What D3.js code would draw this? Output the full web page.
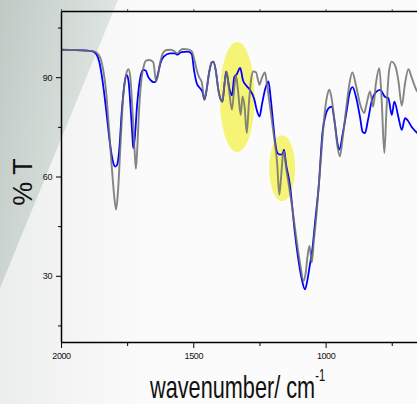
<!DOCTYPE html>
<html>
<head>
<meta charset="utf-8">
<script src="https://cdn.jsdelivr.net/npm/d3@7"></script>
<style>
  html, body { margin: 0; padding: 0; background: #fbfbfb; }
  svg { display: block; }
  .tick text { font-family: "Liberation Sans", Arial, sans-serif; font-size: 9px; letter-spacing: -0.4px; fill: #111; }
</style>
</head>
<body>
<div id="chart"></div>
<script>
// wavenumbers (cm-1) and %T
const grayWn = [2000, 1950, 1900, 1875, 1860, 1850, 1840, 1830, 1820, 1810, 1800, 1792, 1785, 1775, 1765, 1755, 1745, 1738, 1730, 1722, 1717, 1712, 1705, 1695, 1685, 1679, 1665, 1651, 1645, 1641, 1635, 1625, 1613, 1600, 1585, 1575, 1560, 1548, 1538, 1520, 1506, 1495, 1487, 1478, 1468, 1458, 1450, 1440, 1430, 1424, 1415, 1405, 1395, 1390, 1382, 1374, 1366, 1354, 1346, 1339, 1331, 1321, 1314, 1306, 1298, 1290, 1282, 1273, 1263, 1255, 1250, 1242, 1229, 1222, 1210, 1200, 1190, 1183, 1175, 1168, 1162, 1157, 1150, 1140, 1125, 1110, 1095, 1084, 1075, 1068, 1061, 1052, 1045, 1035, 1025, 1015, 1005, 995, 986, 978, 965, 955, 946, 935, 920, 910, 899, 885, 870, 854, 845, 832, 820, 810, 797, 788, 778, 770, 760, 750, 735, 725, 712, 700, 687, 675, 656, 640];
const grayT = [98.2, 98.2, 98.0, 97.8, 97.0, 95.5, 92, 86, 76, 65, 55, 50, 55, 70, 84, 90.5, 92.4, 90, 80, 68, 62.3, 68, 80, 90, 94, 95, 95.2, 94.5, 91, 88.7, 90, 94.5, 97.5, 98.2, 98.3, 98, 97.2, 98.2, 98.5, 98.4, 97.8, 95, 92.2, 90, 88.5, 83.2, 86, 91.5, 94.5, 94.7, 92, 86, 83, 82.6, 88, 91.7, 87, 80.2, 86, 90.7, 86, 78.6, 84.2, 81, 73.1, 82, 89, 91.7, 91.5, 89, 87.7, 89.5, 91.4, 88, 81.1, 75, 69, 64, 54.5, 60, 66, 67.6, 63, 58, 50, 41, 33, 28.4, 31, 36, 39, 34, 40, 48, 58, 68.1, 78, 84, 86.2, 84, 76, 69, 66.1, 72, 82, 88, 91.4, 87.5, 82, 79.2, 82, 85.7, 81.1, 88, 92.7, 83, 67.1, 80, 92, 94.7, 93, 89, 81.4, 88, 92.4, 90, 86, 85];

const blueWn = [2000, 1950, 1900, 1880, 1865, 1855, 1845, 1835, 1825, 1815, 1805, 1795, 1788, 1780, 1770, 1760, 1752, 1745, 1738, 1730, 1727, 1722, 1712, 1700, 1689, 1680, 1670, 1660, 1650, 1645, 1635, 1625, 1612, 1588, 1570, 1560, 1545, 1520, 1506, 1497, 1487, 1475, 1465, 1458, 1450, 1440, 1430, 1424, 1415, 1405, 1395, 1390, 1382, 1376, 1362, 1354, 1345, 1335, 1323, 1312, 1300, 1286, 1270, 1260, 1250, 1240, 1228, 1216, 1208, 1198, 1190, 1182, 1172, 1163, 1157, 1150, 1135, 1116, 1103, 1090, 1078, 1068, 1060, 1050, 1040, 1025, 1012, 1000, 990, 977, 965, 955, 948, 935, 920, 910, 898, 885, 870, 860, 851, 840, 825, 810, 794, 775, 763, 750, 740, 725, 712, 700, 690, 675, 656, 640];
const blueT = [98.3, 98.2, 98.0, 97.8, 96.8, 94.5, 90, 84, 77, 70, 65, 63, 63.5, 68, 80, 88, 90.7, 89, 82, 72, 68.6, 71, 82, 90, 92.2, 92, 90, 89, 88.5, 88.5, 90.5, 94, 96.2, 97.2, 97.2, 96.8, 97.6, 97.7, 97, 92, 88.2, 86.7, 85.5, 83.2, 86, 91.5, 94.5, 94.7, 92, 86, 83, 82.6, 88, 91.7, 86, 84.5, 90, 91, 92.8, 89, 87.5, 86.2, 83.5, 80, 78.1, 82, 86.5, 88.7, 84, 76, 70, 67.1, 66.6, 66.8, 68.1, 64, 57.5, 43, 35, 29, 25.9, 29, 33, 38, 46, 58, 73.1, 78.5, 80.5, 81.1, 76, 70, 68.1, 73, 80, 85, 87, 84, 78, 73.5, 73.1, 77, 83, 85.5, 86.2, 84, 83.7, 78.6, 82.6, 78, 74.1, 77.6, 77, 75, 73.3, 72];

const xMajor = [2000, 1500, 1000];
const xMinor = [1750, 1250, 750];
const yMajor = [30, 60, 90];
const yMinor = [15, 45, 75, 105];

// highlighted regions: [wavenumber centre, %T centre, half width cm-1, half height %T]
const highlights = [[1334, 84, 66, 16.6], [1164, 62.5, 49, 10]];

const width = 417, height = 404;
const margin = { top: 11, left: 61, bottom: 62 };

const svg = d3.select("#chart").append("svg")
    .attr("width", width)
    .attr("height", height);

const defs = svg.append("defs");
const grad = defs.append("linearGradient").attr("id", "wedge")
    .attr("x1", 0).attr("y1", 0).attr("x2", 1).attr("y2", 0.4);
grad.append("stop").attr("offset", "0%").attr("stop-color", "#bfcac5");
grad.append("stop").attr("offset", "100%").attr("stop-color", "#e4e9e6");
const fade = defs.append("linearGradient").attr("id", "fade")
    .attr("x1", 0).attr("y1", 0).attr("x2", 1).attr("y2", 0);
fade.append("stop").attr("offset", "0%").attr("stop-color", "#eceeed");
fade.append("stop").attr("offset", "35%").attr("stop-color", "#fbfbfb");
fade.append("stop").attr("offset", "100%").attr("stop-color", "#fbfbfb");

svg.append("rect").attr("width", width).attr("height", height).attr("fill", "url(#fade)");
svg.append("path")
    .attr("d", "M0,0 L118,0 L0,288 Z")
    .attr("fill", "url(#wedge)");

const x = d3.scaleLinear().domain([2000, 650]).range([margin.left, 418.2]);
const y = d3.scaleLinear().domain([10, 110]).range([height - margin.bottom, margin.top]);

svg.append("g")
  .selectAll("ellipse")
  .data(highlights)
  .enter().append("ellipse")
    .attr("cx", d => x(d[0]))
    .attr("cy", d => y(d[1]))
    .attr("rx", d => x(d[0] - d[2]) - x(d[0]))
    .attr("ry", d => y(d[1] - d[3]) - y(d[1]))
    .attr("fill", "#f6f477");

const line = (wn, t) => d3.line()
    .x(i => x(wn[i]))
    .y(i => y(t[i]))
    .curve(d3.curveMonotoneX)(d3.range(wn.length));

svg.append("path")
    .attr("d", line(blueWn, blueT))
    .attr("fill", "none")
    .attr("stroke", "#0000ff")
    .attr("stroke-width", 1.8);

svg.append("path")
    .attr("d", line(grayWn, grayT))
    .attr("fill", "none")
    .attr("stroke", "#6f6f6f")
    .attr("stroke-opacity", 0.85)
    .attr("stroke-width", 1.9);

// axes
const bottomY = y(10);
svg.append("g")
    .attr("transform", `translate(0, ${bottomY})`)
    .call(d3.axisBottom(x).tickValues(xMajor).tickSize(6).tickSizeOuter(0).tickFormat(d3.format("d")))
    .call(g => g.select(".domain").attr("stroke-width", 1.5))
    .call(g => g.selectAll(".tick text").attr("dy", "0.9em"));
svg.append("g")
    .attr("transform", `translate(0, ${bottomY})`)
    .call(d3.axisBottom(x).tickValues(xMinor).tickSize(4).tickFormat(""))
    .call(g => g.select(".domain").remove());

svg.append("g")
    .attr("transform", `translate(${margin.left}, 0)`)
    .call(d3.axisLeft(y).tickValues(yMajor).tickSize(5).tickSizeOuter(0))
    .call(g => g.select(".domain").attr("stroke-width", 1.5))
    .call(g => g.selectAll(".tick text").attr("x", -9));
svg.append("g")
    .attr("transform", `translate(${margin.left}, 0)`)
    .call(d3.axisLeft(y).tickValues(yMinor).tickSize(3).tickFormat(""))
    .call(g => g.select(".domain").remove());

svg.append("g")
    .attr("transform", `translate(0, ${margin.top})`)
    .call(d3.axisTop(x).tickValues(xMajor.concat(xMinor)).tickSize(2).tickSizeOuter(0).tickFormat(""))
    .call(g => g.select(".domain").attr("stroke-width", 1.5))
    .call(g => g.selectAll(".tick line").attr("stroke", "#555"));

// titles (x title squeezed horizontally like the original)
const xt = svg.append("text")
    .attr("transform", "translate(150, 398) scale(0.7, 1)")
    .attr("font-family", "Liberation Sans, Arial, sans-serif")
    .attr("font-size", 31)
    .attr("fill", "#111");
xt.append("tspan").text("wavenumber/ cm");
xt.append("tspan")
    .attr("dy", -17)
    .attr("font-size", 16)
    .text("-1");

svg.append("text")
    .attr("transform", "translate(32, 182) rotate(-90)")
    .attr("text-anchor", "middle")
    .attr("font-family", "Liberation Sans, Arial, sans-serif")
    .attr("font-size", 27)
    .attr("fill", "#111")
    .text("% T");
</script>
</body>
</html>
